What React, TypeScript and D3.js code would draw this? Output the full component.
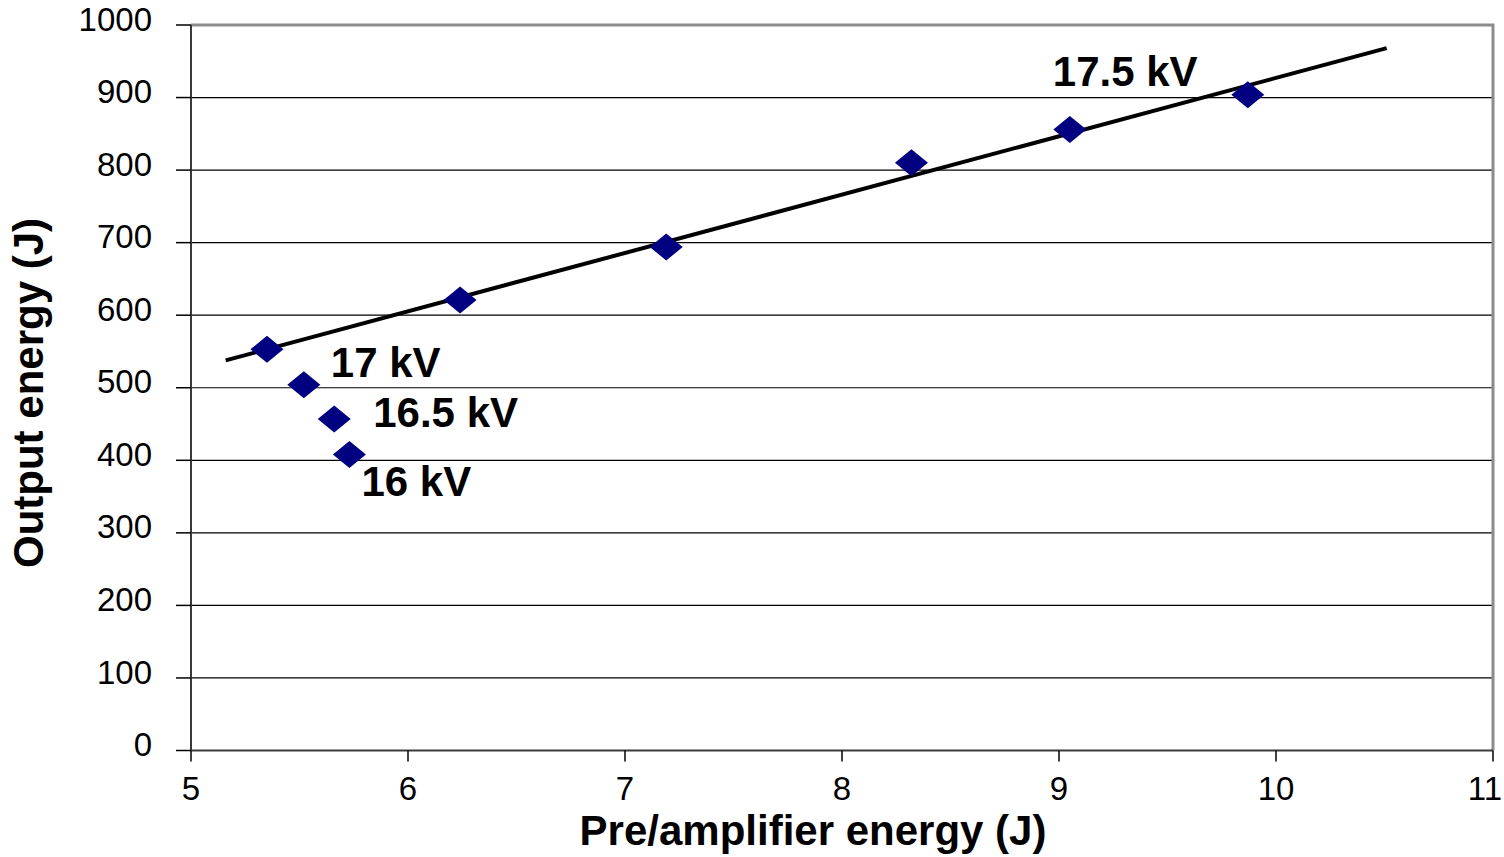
import * as d3 from "d3";
import { useRef, useEffect } from "react";

// points on the 17.5 kV run (fitted with the trend line)
const preEnergy = [5.35, 6.24, 7.19, 8.32, 9.05, 9.87];
const outEnergy = [553, 621, 694, 810, 856, 904];

// lower charging voltages
const lowPreEnergy = [5.52, 5.66, 5.73];
const lowOutEnergy = [504, 457, 408];

const voltageLabels = ["17.5 kV", "17 kV", "16.5 kV", "16 kV"];
// which point each label sits next to: [series, index]
const labelAnchors: [string, number][] = [["main", 4], ["low", 0], ["low", 1], ["low", 2]];

const trendExtent = [5.16, 10.51];
const xTicks = [5, 6, 7, 8, 9, 10, 11];
const yTicks = [0, 100, 200, 300, 400, 500, 600, 700, 800, 900, 1000];

// label placement in pixels, relative to anchor point
const labelOffsets = [[-17, -43], [27, -8], [39, 8], [12, 42]];

const FONT = "'Liberation Sans', Arial, Helvetica, sans-serif";

export default function App() {
  const svgRef = useRef<SVGSVGElement | null>(null);

  useEffect(() => {
    const svg = d3.select(svgRef.current);
    svg.selectAll("*").remove();

    const W = 1504;
    const H = 857;
    const left = 191, right = 1493, top = 25, bottom = 750.5;

    const x = d3.scaleLinear().domain([5, 11]).range([left, right]);
    const y = d3.scaleLinear().domain([0, 1000]).range([bottom, top]);

    svg.attr("viewBox", `0 0 ${W} ${H}`).style("font-family", FONT);

    // gridlines
    svg.append("g")
      .selectAll("line")
      .data(yTicks.filter(v => v > 0 && v < 1000))
      .join("line")
      .attr("x1", left)
      .attr("x2", right)
      .attr("y1", d => y(d))
      .attr("y2", d => y(d))
      .attr("stroke", "#000")
      .attr("stroke-width", 1.2);

    // grey frame top / right
    svg.append("path")
      .attr("d", `M${left},${top}H${right}V${bottom}`)
      .attr("fill", "none")
      .attr("stroke", "#8c8c8c")
      .attr("stroke-width", 3);

    // axes lines
    svg.append("path")
      .attr("d", `M${left},${top}V${bottom}H${right}`)
      .attr("fill", "none")
      .attr("stroke", "#3a3a3a")
      .attr("stroke-width", 2);

    // y ticks + labels
    const yt = svg.append("g");
    yt.selectAll("line")
      .data(yTicks)
      .join("line")
      .attr("x1", left - 15)
      .attr("x2", left)
      .attr("y1", d => y(d))
      .attr("y2", d => y(d))
      .attr("stroke", "#000")
      .attr("stroke-width", 1.5);
    yt.selectAll("text")
      .data(yTicks)
      .join("text")
      .attr("x", 152)
      .attr("y", d => y(d) - 6)
      .attr("dy", "0.35em")
      .attr("text-anchor", "end")
      .attr("font-size", 33)
      .text(d => d);

    // x ticks + labels
    const xt = svg.append("g");
    xt.selectAll("line")
      .data(xTicks)
      .join("line")
      .attr("x1", d => x(d))
      .attr("x2", d => x(d))
      .attr("y1", bottom)
      .attr("y2", bottom + 11)
      .attr("stroke", "#000")
      .attr("stroke-width", 1.5);
    // last label is pushed in so it stays inside the picture
    xt.selectAll("text")
      .data(xTicks)
      .join("text")
      .attr("x", (d, i) => (i === xTicks.length - 1 ? W - 2 : x(d)))
      .attr("y", 800)
      .attr("text-anchor", (_, i) => (i === xTicks.length - 1 ? "end" : "middle"))
      .attr("font-size", 33)
      .text(d => d);

    // axis titles
    svg.append("text")
      .attr("x", 813)
      .attr("y", 845)
      .attr("text-anchor", "middle")
      .attr("font-size", 42)
      .attr("font-weight", 700)
      .text("Pre/amplifier energy (J)");

    svg.append("text")
      .attr("transform", `translate(43,393) rotate(-90)`)
      .attr("text-anchor", "middle")
      .attr("font-size", 42)
      .attr("font-weight", 700)
      .text("Output energy (J)");

    // least squares trend through the main run
    const mx = d3.mean(preEnergy)!;
    const my = d3.mean(outEnergy)!;
    const sxy = d3.sum(preEnergy, (v, i) => (v - mx) * (outEnergy[i] - my));
    const sxx = d3.sum(preEnergy, v => (v - mx) ** 2);
    const slope = sxy / sxx;
    const icpt = my - slope * mx;

    svg.append("path")
      .datum(trendExtent)
      .attr("d", d3.line<number>().x(d => x(d)).y(d => y(icpt + slope * d)))
      .attr("stroke", "#000")
      .attr("stroke-width", 4)
      .attr("fill", "none");

    // diamonds
    const pts = [
      ...preEnergy.map((v, i) => [v, outEnergy[i]]),
      ...lowPreEnergy.map((v, i) => [v, lowOutEnergy[i]]),
    ];
    const hw = 16.5, hh = 13.5;
    svg.append("g")
      .selectAll("path")
      .data(pts)
      .join("path")
      .attr("d", d => {
        const cx = x(d[0]), cy = y(d[1]);
        return `M${cx - hw},${cy}L${cx},${cy - hh}L${cx + hw},${cy}L${cx},${cy + hh}Z`;
      })
      .attr("fill", "#000080");

    // voltage labels
    svg.append("g")
      .selectAll("text")
      .data(voltageLabels)
      .join("text")
      .attr("x", (_, i) => {
        const [s, k] = labelAnchors[i];
        const px = s === "main" ? preEnergy[k] : lowPreEnergy[k];
        return x(px) + labelOffsets[i][0];
      })
      .attr("y", (_, i) => {
        const [s, k] = labelAnchors[i];
        const py = s === "main" ? outEnergy[k] : lowOutEnergy[k];
        return y(py) + labelOffsets[i][1];
      })
      .attr("font-size", 42)
      .attr("font-weight", 700)
      .text(d => d);
  }, []);

  return (
    <svg
      ref={svgRef}
      width={1504}
      height={857}
      style={{ position: "absolute", left: 0, top: 0, display: "block", background: "#fff" }}
    />
  );
}
